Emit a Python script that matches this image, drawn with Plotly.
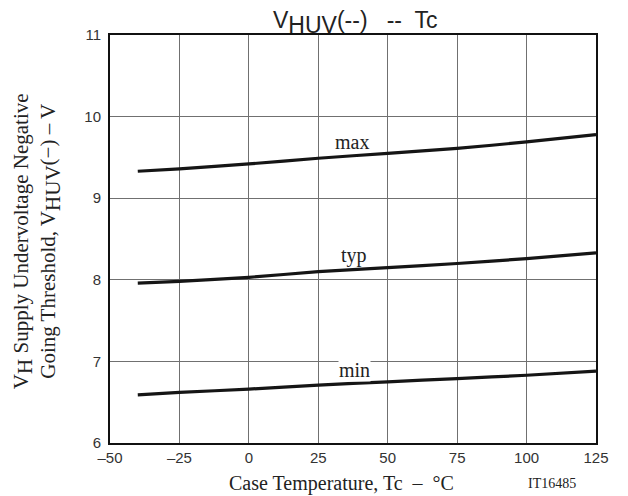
import plotly.graph_objects as go

# case temperature (degC) and threshold curves
temp = [-40, -25, 0, 25, 50, 75, 100, 125]
v_max = [9.33, 9.36, 9.42, 9.49, 9.55, 9.61, 9.69, 9.78]
v_typ = [7.96, 7.98, 8.03, 8.10, 8.15, 8.20, 8.26, 8.33]
v_min = [6.59, 6.62, 6.66, 6.71, 6.75, 6.79, 6.83, 6.88]

x_ticks = [-50, -25, 0, 25, 50, 75, 100, 125]
x_ticktext = ["\u201350", "\u201325", "0", "25", "50", "75", "100", "125"]
y_ticks = [6, 7, 8, 9, 10, 11]

curve_names = ["max", "typ", "min"]
label_t = [37, 38, 38]
label_v = [9.69, 8.30, 6.90]

SANS = "Liberation Sans, Arial, sans-serif"
SERIF = "Liberation Serif, Times New Roman, serif"

fig = go.Figure()
for name, vals in zip(curve_names, [v_max, v_typ, v_min]):
    fig.add_trace(go.Scatter(x=temp, y=vals, mode="lines", name=name,
                             line=dict(color="#151515", width=3.2,
                                       shape="spline", smoothing=0.6)))

for name, t, v in zip(curve_names, label_t, label_v):
    fig.add_annotation(x=t, y=v, text=name, showarrow=False,
                       font=dict(family=SERIF, size=20, color="#222"),
                       bgcolor="white" if name == "min" else None,
                       borderpad=0)

axis_common = dict(showline=True, linecolor="#111", linewidth=2, mirror=True,
                   showgrid=True, gridcolor="#707070", gridwidth=1,
                   zeroline=False, ticks="",
                   tickfont=dict(family=SANS, size=15, color="#333"))

fig.update_xaxes(range=[-50, 125], tickvals=x_ticks, ticktext=x_ticktext,
                 **axis_common)
fig.update_yaxes(range=[6, 11], tickvals=y_ticks, ticklabelstandoff=4,
                 **axis_common)

big = 'style="font-size:23px"'
fig.add_annotation(xref="paper", yref="paper", x=0.505, y=1.074,
                   xanchor="center", yanchor="top", showarrow=False,
                   text=f"V<sub><span {big}>HUV</span></sub>(--)&nbsp;&nbsp; --&nbsp; Tc",
                   font=dict(family=SANS, size=23, color="#222"))

mid = 'style="font-size:21px"'
fig.add_annotation(xref="paper", yref="paper", x=-0.150, y=0.495,
                   xanchor="center", yanchor="middle", showarrow=False,
                   textangle=-90, align="center",
                   text=(f"V<sub><span {mid}>H</span></sub> Supply Undervoltage Negative<br>"
                         f"Going Threshold, V<sub><span {mid}>HUV</span></sub>(\u2212) \u2013 V"),
                   font=dict(family=SERIF, size=21, color="#222"))

fig.add_annotation(xref="paper", yref="paper", x=0.477, y=-0.1,
                   xanchor="center", yanchor="middle", showarrow=False,
                   text="Case Temperature, Tc&nbsp; \u2013&nbsp; \u00b0C",
                   font=dict(family=SERIF, size=20, color="#222"))
fig.add_annotation(xref="paper", yref="paper", x=0.909, y=-0.1,
                   xanchor="center", yanchor="middle", showarrow=False,
                   text="IT16485",
                   font=dict(family=SERIF, size=14, color="#222"))

# the page adds an 8px body margin, so the margins are shifted to compensate
fig.update_layout(width=628, height=496, showlegend=False,
                  paper_bgcolor="white", plot_bgcolor="white",
                  margin=dict(l=102, r=40, t=27, b=61))

fig.write_html("out.html")
